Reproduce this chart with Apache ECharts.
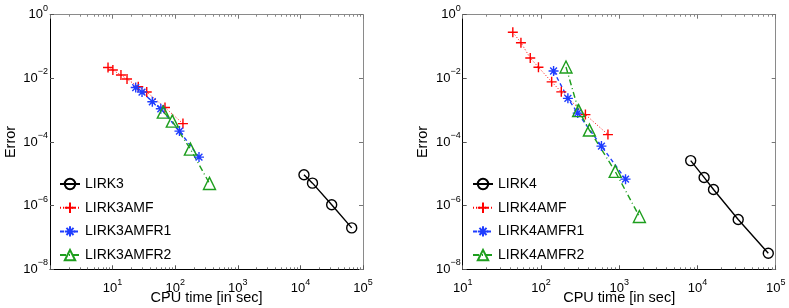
<!DOCTYPE html>
<html><head><meta charset="utf-8">
<script src="https://cdn.jsdelivr.net/npm/echarts@6/dist/echarts.min.js"></script>
<style>html,body{margin:0;padding:0;background:#fff}#c{width:789px;height:308px}</style>
</head><body><div id="c"></div>
<script>
// ---- Left panel data (3rd order) ----
const lirk3Time = [11400, 15600, 31600, 66000];
const lirk3Err = [9.4e-6, 5.1e-6, 1.07e-6, 2.0e-7];
const lirk3amfTime = [8.45, 10.1, 13.6, 17.0, 25.7, 35.1, 68.7, 133];
const lirk3amfErr = [2.19e-2, 1.82e-2, 1.27e-2, 9.5e-3, 5.44e-3, 3.71e-3, 1.21e-3, 3.79e-4];
const lirk3amfr1Time = [23.4, 29.5, 43.1, 58.9, 117, 240];
const lirk3amfr1Err = [5.14e-3, 3.71e-3, 1.84e-3, 1.11e-3, 2.2e-4, 3.35e-5];
const lirk3amfr2Time = [64.6, 89.9, 175, 353];
const lirk3amfr2Err = [8.71e-4, 4.54e-4, 5.98e-5, 4.99e-6];
// ---- Right panel data (4th order) ----
const lirk4Time = [8200, 12160, 16040, 33180, 80400];
const lirk4Err = [2.6e-5, 7.7e-6, 3.23e-6, 3.68e-7, 3.21e-8];
const lirk4amfTime = [43.7, 55.5, 73.0, 92.9, 137, 182, 370, 718];
const lirk4amfErr = [0.280, 0.132, 0.0435, 0.0223, 7.76e-3, 3.76e-3, 7.27e-4, 1.71e-4];
const lirk4amfr1Time = [145, 221, 295, 593, 1205];
const lirk4amfr1Err = [1.70e-2, 2.35e-3, 8.1e-4, 7.43e-5, 6.8e-6];
const lirk4amfr2Time = [209, 303, 416, 889, 1811];
const lirk4amfr2Err = [2.27e-2, 9.71e-4, 2.37e-4, 1.19e-5, 4.57e-7];
// ---- Axis ticks ----
const yTicks = [1e-8, 1e-6, 1e-4, 1e-2, 1];
const xTicksLeft = [1, 10, 100, 1000, 10000, 100000];
const xTicksRight = [10, 100, 1000, 10000, 100000];
const xLabelsLeft = [10, 100, 1000, 10000, 100000];
const xLabelsRight = [10, 100, 1000, 10000, 100000];
const names3 = ['LIRK3', 'LIRK3AMF', 'LIRK3AMFR1', 'LIRK3AMFR2'];
const names4 = ['LIRK4', 'LIRK4AMF', 'LIRK4AMFR1', 'LIRK4AMFR2'];

const FONT = "'Liberation Sans', Arial, Helvetica, sans-serif";
function minorTicks(lo, hi) {
  const out = [];
  for (let d = lo; d < hi; d *= 10) for (let k = 2; k <= 9; k++) out.push(d * k);
  return out;
}
function zip(a, b) { return a.map((v, i) => [v, b[i]]); }
function fmt(v) {
  const p = Math.round(Math.log10(v));
  return '{b|10}{s|' + (p < 0 ? '\u2212' + (-p) : p) + '}';
}
const rich = {
  b: { fontSize: 13, fontFamily: FONT, color: '#000', lineHeight: 14 },
  s: { fontSize: 9, fontFamily: FONT, color: '#000', lineHeight: 10, padding: [0, 0, 13, 0] }
};
const PLUS = 'path://M5,0L5,10M0,5L10,5';
const STAR = 'path://M5,0L5,10M0,5L10,5M1.6,1.6L8.4,8.4M1.6,8.4L8.4,1.6';
const C_RED = '#ff0000', C_BLUE = '#1f3dff', C_GREEN = '#1e9e1e', C_BLACK = '#000000';

const grids = [
  { left: 50, top: 14.7, width: 313, height: 254.6, containLabel: false, outerBoundsMode: 'none' },
  { left: 462.7, top: 14.7, width: 313, height: 254.6, containLabel: false, outerBoundsMode: 'none' }
];
const xAxes = [], yAxes = [];
[[1, xTicksLeft, xLabelsLeft], [10, xTicksRight, xLabelsRight]].forEach(([xmin, ticks, labels], g) => {
  const mt = minorTicks(xmin, 1e5);
  const base = { gridIndex: g, type: 'log', logBase: 10, min: xmin, max: 1e5, splitLine: { show: false } };
  xAxes.push(Object.assign({}, base, {
    position: 'bottom',
    axisLine: { show: true, lineStyle: { color: '#000', width: 1 } },
    axisTick: { show: true, inside: true, length: 4, customValues: ticks, lineStyle: { color: '#555' } },
    axisLabel: { show: true, customValues: labels, formatter: fmt, rich: rich, margin: 12.5 },
    name: 'CPU time [in sec]', nameLocation: 'middle', nameGap: 21, nameMoveOverlap: false,
    nameTextStyle: { fontSize: 14.5, fontFamily: FONT, color: '#000' }
  }));
  xAxes.push(Object.assign({}, base, {
    position: 'bottom', axisLine: { show: false },
    axisTick: { show: true, inside: true, length: 2, customValues: mt, lineStyle: { color: '#777' } },
    axisLabel: { show: false }
  }));
  xAxes.push(Object.assign({}, base, {
    position: 'top',
    axisLine: { show: true, lineStyle: { color: '#8a8a8a', width: 1 } },
    axisTick: { show: true, inside: true, length: 4, customValues: ticks, lineStyle: { color: '#777' } },
    axisLabel: { show: false }
  }));
  xAxes.push(Object.assign({}, base, {
    position: 'top', axisLine: { show: false },
    axisTick: { show: true, inside: true, length: 2, customValues: mt, lineStyle: { color: '#888' } },
    axisLabel: { show: false }
  }));
  const ybase = { gridIndex: g, type: 'log', logBase: 10, min: 1e-8, max: 1, splitLine: { show: false } };
  yAxes.push(Object.assign({}, ybase, {
    position: 'left',
    axisLine: { show: true, lineStyle: { color: '#000', width: 1 } },
    axisTick: { show: true, inside: true, length: 4, customValues: yTicks, lineStyle: { color: '#555' } },
    axisLabel: { show: true, customValues: yTicks, formatter: fmt, rich: rich, margin: 2 },
    name: 'Error', nameLocation: 'middle', nameGap: 32, nameRotate: 90, nameMoveOverlap: false,
    nameTextStyle: { fontSize: 14.5, fontFamily: FONT, color: '#000' }
  }));
  yAxes.push(Object.assign({}, ybase, {
    position: 'right',
    axisLine: { show: true, lineStyle: { color: '#8a8a8a', width: 1 } },
    axisTick: { show: true, inside: true, length: 4, customValues: yTicks, lineStyle: { color: '#777' } },
    axisLabel: { show: false }
  }));
});

function ser(name, g, t, e, color, symbol, size, lineType, lw) {
  return {
    name: name, type: 'line', xAxisIndex: g * 4, yAxisIndex: g * 2,
    data: zip(t, e), symbol: symbol, symbolSize: size, showSymbol: true,
    lineStyle: { color: color, width: lw, type: lineType },
    itemStyle: { color: 'none', borderColor: color, borderWidth: 1.4 },
    emphasis: { disabled: true }, animation: false, z: 3
  };
}
const series = [
  ser(names3[0], 0, lirk3Time, lirk3Err, C_BLACK, 'circle', 10, 'solid', 1.4),
  ser(names3[1], 0, lirk3amfTime, lirk3amfErr, C_RED, PLUS, 10, [1, 2], 1),
  ser(names3[2], 0, lirk3amfr1Time, lirk3amfr1Err, C_BLUE, STAR, 10, [4, 3], 1.4),
  ser(names3[3], 0, lirk3amfr2Time, lirk3amfr2Err, C_GREEN, 'triangle', 12, [6, 3, 1, 3], 1.4),
  ser(names4[0], 1, lirk4Time, lirk4Err, C_BLACK, 'circle', 10, 'solid', 1.4),
  ser(names4[1], 1, lirk4amfTime, lirk4amfErr, C_RED, PLUS, 10, [1, 2], 1),
  ser(names4[2], 1, lirk4amfr1Time, lirk4amfr1Err, C_BLUE, STAR, 10, [4, 3], 1.4),
  ser(names4[3], 1, lirk4amfr2Time, lirk4amfr2Err, C_GREEN, 'triangle', 12, [6, 3, 1, 3], 1.4)
];
const legendBase = {
  orient: 'vertical', top: 176.3, itemWidth: 20, itemHeight: 13, itemGap: 8.3,
  textStyle: { fontSize: 14, fontFamily: FONT, color: '#000' },
  selectedMode: false, padding: 0
};
const option = {
  animation: false,
  backgroundColor: '#fff',
  grid: grids,
  xAxis: xAxes,
  yAxis: yAxes,
  legend: [
    Object.assign({}, legendBase, { data: names3, left: 59 }),
    Object.assign({}, legendBase, { data: names4, left: 472 })
  ],
  series: series
};
const chart = echarts.init(document.getElementById('c'), null, { renderer: 'canvas' });
chart.setOption(option);
</script>
</body></html>
